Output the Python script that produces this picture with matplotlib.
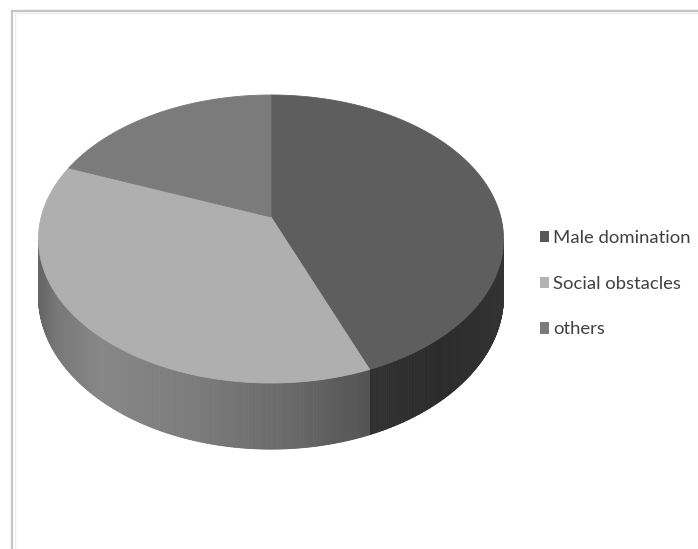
import numpy as np
import matplotlib
matplotlib.use("Agg")
import matplotlib.pyplot as plt
from matplotlib.patches import Polygon, Patch

# Survey shares (percent)
labels = ["Male domination", "Social obstacles", "others"]
values = [44, 37, 19]
top_colors = ["#5e5e5e", "#afafaf", "#7b7b7b"]
legend_colors = ["#575757", "#b3b3b3", "#7a7a7a"]

W, H = 698, 549
fig = plt.figure(figsize=(W / 100, H / 100), dpi=100)
ax = fig.add_axes([0, 0, 1, 1])
ax.set_xlim(0, W)
ax.set_ylim(H, 0)
ax.axis("off")

# chart-area frame
ax.plot([12, 12, W], [H, 10.5, 10.5], color="#c4c4c4", lw=1.6, solid_joinstyle="miter")
ax.plot([14.5, 14.5, W], [H, 13, 13], color="#ececec", lw=1.0)

# perspective disc: angle measured clockwise from the far point
cx, R = 271.0, 229.8
pa, pb, pc = 107.5, 217.0, -0.1528
depth = 56.0


def project(theta_deg, z=0.0):
    th = np.radians(theta_deg)
    s, t = np.sin(th), -np.cos(th)
    den = 1 + pc * t
    return cx + R * s / den, (pa * t + pb) / den + depth * z / den


# silhouette angles of the side wall
t_sil = -pc
s_sil = np.sqrt(1 - t_sil ** 2)
wall_lo = np.degrees(np.arctan2(s_sil, -t_sil))
wall_hi = 360 - wall_lo

bounds = np.concatenate([[0], np.cumsum(values)]) / np.sum(values) * 360


def wall_shade(i, x):
    if i == 0:
        xs, gs = [372, 440, 503], [0.19, 0.17, 0.20]
    else:
        xs, gs = [40, 55, 100, 200, 300, 372], [0.40, 0.47, 0.53, 0.48, 0.40, 0.32]
    g = np.interp(x, xs, gs)
    return (g, g, g)


# side wall
for i in range(len(values)):
    a0, a1 = max(bounds[i], wall_lo), min(bounds[i + 1], wall_hi)
    if a1 <= a0:
        continue
    edges = np.linspace(a0, a1, int((a1 - a0) * 3) + 2)
    for e0, e1 in zip(edges[:-1], edges[1:]):
        p = [project(e0, 0), project(e1, 0), project(e1, 1), project(e0, 1)]
        xm = 0.5 * (p[0][0] + p[1][0])
        col = wall_shade(i, xm)
        ax.add_patch(Polygon(p, closed=True, facecolor=col, edgecolor=col, lw=0.6))

# top face
for i in range(len(values)):
    arc = np.linspace(bounds[i], bounds[i + 1], 200)
    pts = [project(a, 0) for a in arc]
    pts.append((cx, pb))
    ax.add_patch(Polygon(pts, closed=True, facecolor=top_colors[i],
                         edgecolor=top_colors[i], lw=0.6))

handles = [Patch(facecolor=c, edgecolor="none") for c in legend_colors]
leg = ax.legend(handles, labels, loc="upper left", bbox_to_anchor=(533 / W, 1 - 223 / H),
                frameon=False, handlelength=0.45, handleheight=0.55,
                handletextpad=0.25, labelspacing=1.6, borderaxespad=0,
                prop={"family": ["Lato", "DejaVu Sans"], "size": 13.3})
for txt in leg.get_texts():
    txt.set_color("#404040")

fig.savefig("out.png", dpi=100, facecolor="white")
